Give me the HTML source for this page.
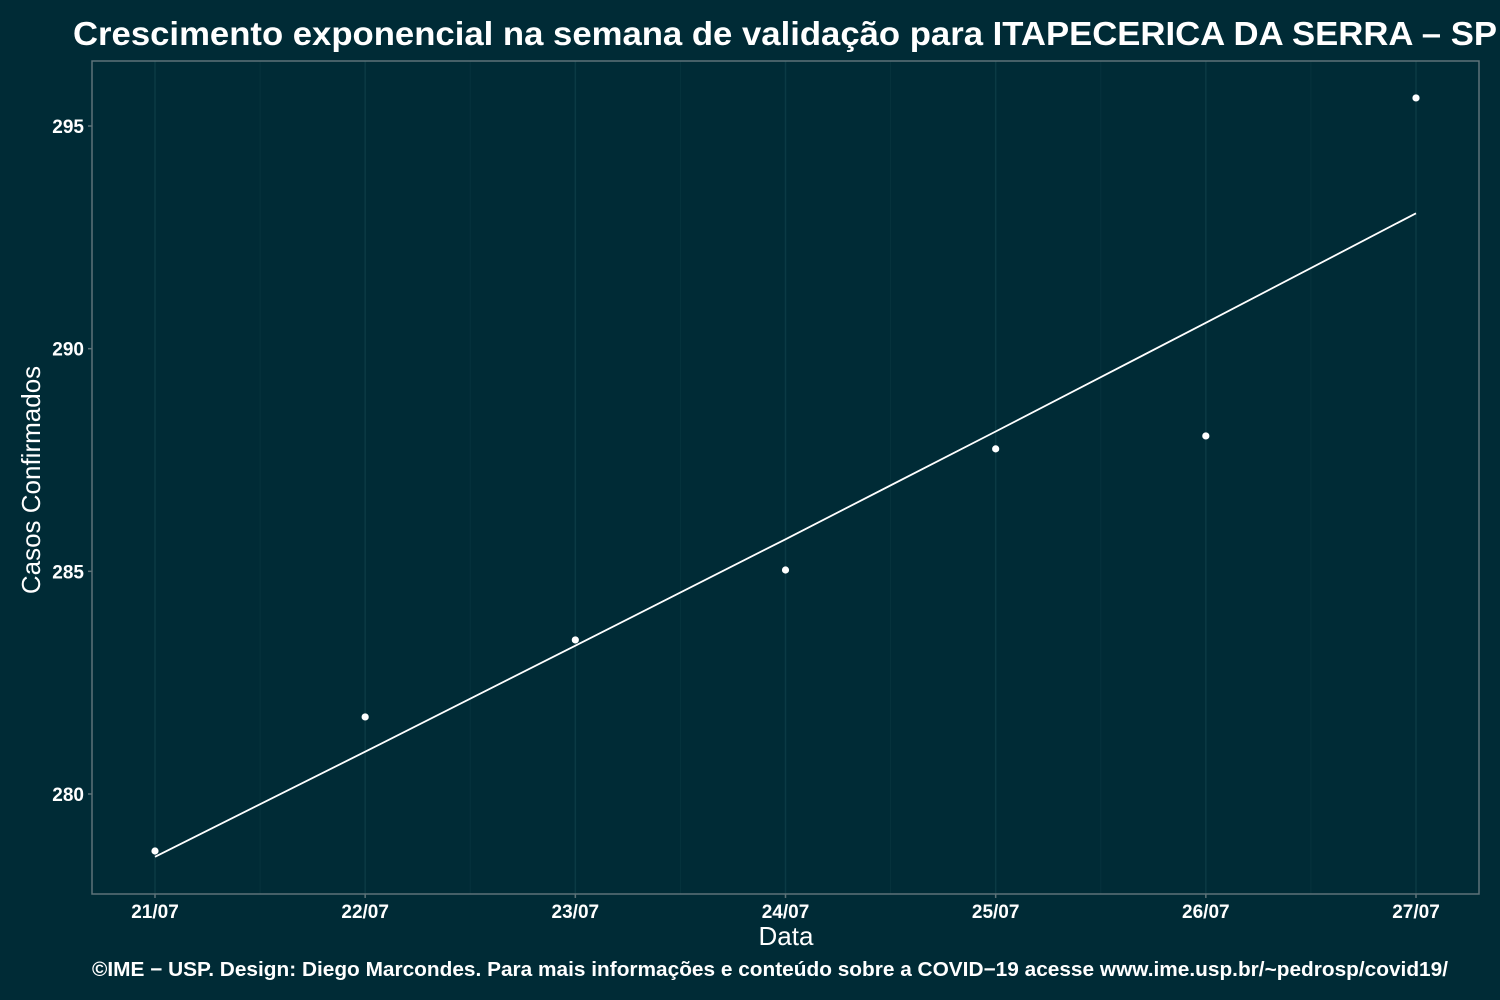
<!DOCTYPE html>
<html><head><meta charset="utf-8"><style>
html,body{margin:0;padding:0;background:#002b36;}
svg{display:block;font-family:"Liberation Sans",sans-serif;}
</style></head><body>
<svg id="chart" width="1500" height="1000">
<rect x="0" y="0" width="1500" height="1000" fill="#002b36"/>
<text x="73" y="45" font-size="33" font-weight="bold" fill="#ffffff" textLength="1424" lengthAdjust="spacingAndGlyphs">Crescimento exponencial na semana de validação para ITAPECERICA DA SERRA – SP</text>
<g id="grid"></g>
<rect x="92" y="61" width="1387" height="833" fill="none" stroke="#5e7378" stroke-width="1.5"/>
<g id="axes"></g>
<g id="marks"></g>
<text x="786" y="945" font-size="26" fill="#ffffff" text-anchor="middle">Data</text>
<text transform="translate(40,480) rotate(-90)" font-size="26" fill="#ffffff" text-anchor="middle">Casos Confirmados</text>
<text x="92" y="976" font-size="20" font-weight="bold" fill="#ffffff" textLength="1356" lengthAdjust="spacingAndGlyphs">©IME − USP. Design: Diego Marcondes. Para mais informações e conteúdo sobre a COVID−19 acesse www.ime.usp.br/~pedrosp/covid19/</text>
</svg>
<script>
const categories = ["21/07","22/07","23/07","24/07","25/07","26/07","27/07"];
const observed = [278.72, 281.73, 283.46, 285.03, 287.75, 288.04, 295.63];
const fitted = [278.59, 280.95, 283.33, 285.72, 288.14, 290.58, 293.04];
const yTicks = [280, 285, 290, 295];

const NS = "http://www.w3.org/2000/svg";
function xScale(i){ return 155 + i * (1416 - 155) / 6; }
function yScale(v){ return 794 - (v - 280) * (794 - 126) / 15; }
function mk(tag, attrs, parent){
  const e = document.createElementNS(NS, tag);
  for (const k in attrs) e.setAttribute(k, attrs[k]);
  parent.appendChild(e); return e;
}
const grid = document.getElementById('grid');
const axes = document.getElementById('axes');
const marks = document.getElementById('marks');
for (let i = 0; i < categories.length; i++) {
  const gx = xScale(i);
  const l = mk('line', {x1: gx, x2: gx, y1: 61, y2: 894, stroke: '#0b3a44', 'stroke-width': 1.5}, grid);
  
  
  if (i < categories.length - 1) {
    const mx = (xScale(i) + xScale(i + 1)) / 2;
    const m = mk('line', {x1: mx, x2: mx, y1: 61, y2: 894, stroke: '#06333d', 'stroke-width': 1}, grid);
    
    
  }
  const t = mk('line', {x1: gx, x2: gx, y1: 894, y2: 898, stroke: '#5e7378', 'stroke-width': 1.5}, axes);
  
  
  const lab = mk('text', {x: gx, y: 918, 'font-size': 19, 'font-weight': 'bold', fill: '#ffffff', 'text-anchor': 'middle'}, axes);
  lab.textContent = categories[i];
  
  
}
yTicks.forEach(v => {
  const gy = yScale(v);
  const t = mk('line', {x1: 88, x2: 92, y1: gy, y2: gy, stroke: '#5e7378', 'stroke-width': 1.5}, axes);
  
  
  const lab = mk('text', {x: 84, y: gy + 7, 'font-size': 19, 'font-weight': 'bold', fill: '#ffffff', 'text-anchor': 'end'}, axes);
  lab.textContent = v;
  
  
});
const pts = fitted.map((v, i) => xScale(i) + ',' + yScale(v)).join(' ');
const line = mk('polyline', {points: pts, fill: 'none', stroke: '#ffffff', 'stroke-width': 1.8}, marks);


observed.forEach((v, i) => {
  const c = mk('circle', {cx: xScale(i), cy: yScale(v), r: 3.6, fill: '#ffffff'}, marks);
  
  
});
</script>
</body></html>
